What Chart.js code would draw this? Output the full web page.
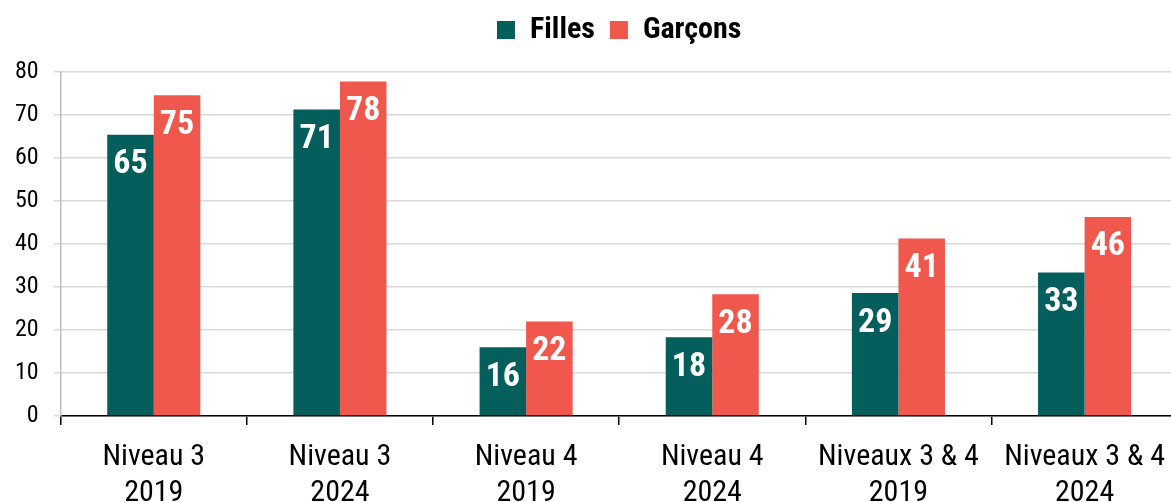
<!DOCTYPE html>
<html>
<head>
<meta charset="utf-8">
<script src="https://cdn.jsdelivr.net/npm/chart.js@4.4.1/dist/chart.umd.min.js"></script>
<style>
html,body{margin:0;padding:0;overflow:hidden;background:#fff;}
#wrap{width:1179px;height:502px;position:relative;}
</style>
</head>
<body>
<div id="wrap"><canvas id="c"></canvas></div>
<script>
const categories = [["Niveau 3","2019"],["Niveau 3","2024"],["Niveau 4","2019"],["Niveau 4","2024"],["Niveaux 3 & 4","2019"],["Niveaux 3 & 4","2024"]];
const seriesNames = ["Filles","Garçons"];
const filles = [65.4, 71.3, 16.0, 18.3, 28.6, 33.4];
const garcons = [74.6, 77.8, 22.0, 28.3, 41.3, 46.3];
const yTicks = [0,10,20,30,40,50,60,70,80];

const FONT = "'Liberation Sans Narrow','Arial Narrow','Roboto Condensed','DejaVu Sans Condensed',sans-serif";

const labelPlugin = {
  id: 'barLabels',
  afterDatasetsDraw(chart) {
    const ctx = chart.ctx;
    ctx.save();
    ctx.fillStyle = '#fff';
    ctx.font = 'bold 34px ' + FONT;
    ctx.textAlign = 'center';
    ctx.textBaseline = 'middle';
    chart.data.datasets.forEach((ds, i) => {
      const meta = chart.getDatasetMeta(i);
      meta.data.forEach((el, j) => {
        ctx.fillText(Math.round(ds.data[j]).toString(), el.x, el.y + 30);
      });
    });
    ctx.restore();
  }
};

const legendFitPlugin = {
  id: 'legendFit',
  beforeInit(chart) {
    const orig = chart.legend.fit;
    chart.legend.fit = function() {
      orig.bind(chart.legend)();
      this.height += 17;
    };
  },
  afterLayout(chart) {
    chart.legend.left = chart.chartArea.left;
    chart.legend.right = chart.chartArea.right;
  }
};

new Chart(document.getElementById('c'), {
  type: 'bar',
  data: {
    labels: categories,
    datasets: [
      {label: seriesNames[0], data: filles, backgroundColor: '#035E5C', categoryPercentage: 0.5, barPercentage: 1.0},
      {label: seriesNames[1], data: garcons, backgroundColor: '#F0584E', categoryPercentage: 0.5, barPercentage: 1.0}
    ]
  },
  options: {
    responsive: true,
    maintainAspectRatio: false,
    animation: false,
    layout: {padding: {left: 0, right: 0, top: 0, bottom: -23}},
    plugins: {
      legend: {
        display: true,
        position: 'top',
        labels: {
          boxWidth: 18, boxHeight: 18,
          color: '#000',
          font: {family: FONT, size: 30, weight: 'bold'},
          padding: 15
        }
      },
      tooltip: {enabled: false}
    },
    scales: {
      x: {
        offset: true,
        border: {color: '#000', width: 1.5},
        grid: {display: true, drawOnChartArea: false, offset: true, tickLength: 9, color: '#000', lineWidth: 1.5},
        ticks: {color: '#000', font: {family: FONT, size: 30}, padding: 14, maxRotation: 0}
      },
      y: {
        min: 0, max: 80,
        afterBuildTicks(axis) { axis.ticks = yTicks.map(v => ({value: v})); },
        border: {color: '#bfbfbf', width: 1.5},
        grid: {color: '#d9d9d9', lineWidth: 1.5, tickLength: 7},
        ticks: {color: '#000', font: {family: FONT, size: 24}, padding: 15}
      }
    }
  },
  plugins: [labelPlugin, legendFitPlugin]
});
</script>
</body>
</html>
